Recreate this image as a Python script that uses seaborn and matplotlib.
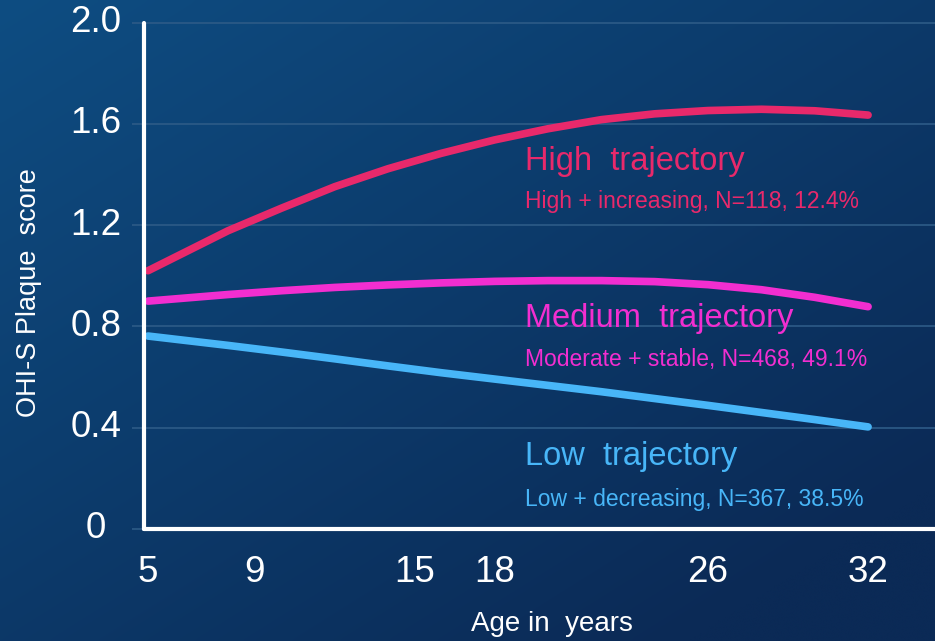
import numpy as np
import pandas as pd
import matplotlib
matplotlib.use("Agg")
import matplotlib.pyplot as plt
import seaborn as sns

# Mean OHI-S plaque score by age for the three trajectory groups
ages = [5, 8, 10, 12, 14, 16, 18, 20, 22, 24, 26, 28, 30, 32]
high_scores = [1.02, 1.178, 1.267, 1.352, 1.423, 1.484, 1.537, 1.581, 1.617, 1.640, 1.653, 1.658, 1.652, 1.635]
medium_scores = [0.90, 0.926, 0.941, 0.954, 0.964, 0.972, 0.978, 0.981, 0.981, 0.977, 0.965, 0.945, 0.915, 0.878]
low_scores = [0.762, 0.725, 0.699, 0.672, 0.644, 0.617, 0.592, 0.567, 0.542, 0.515, 0.488, 0.460, 0.432, 0.403]

groups = ["High", "Medium", "Low"]
titles = ["High  trajectory", "Medium  trajectory", "Low  trajectory"]
subtitles = ["High + increasing, N=118, 12.4%",
             "Moderate + stable, N=468, 49.1%",
             "Low + decreasing, N=367, 38.5%"]
colors = {"High": "#E8296B", "Medium": "#F22ED0", "Low": "#48B6F8"}

x_ticks = [5, 9, 15, 18, 26, 32]
y_ticks = [0, 0.4, 0.8, 1.2, 1.6, 2.0]
y_tick_labels = ["0", "0.4", "0.8", "1.2", "1.6", "2.0"]

df = pd.DataFrame({
    "age": ages * 3,
    "score": high_scores + medium_scores + low_scores,
    "group": [g for g in groups for _ in ages],
})

sns.set_theme(style="white")
plt.rcParams["font.family"] = ["Liberation Sans", "DejaVu Sans"]

W, H = 935, 641
fig = plt.figure(figsize=(W / 100, H / 100), dpi=100)

# diagonal blue gradient backdrop
bg = fig.add_axes([0, 0, 1, 1], zorder=-10)
yy, xx = np.mgrid[0:1:200j, 0:1:300j]
t = np.clip(0.55 * xx + 0.6 * yy, 0, 1)
c0 = np.array([14, 77, 130]) / 255
c1 = np.array([11, 42, 86]) / 255
img = c0[None, None, :] * (1 - t[..., None]) + c1[None, None, :] * t[..., None]
bg.imshow(img, aspect="auto", extent=[0, 1, 1, 0], interpolation="bicubic")
bg.set_axis_off()

ax = fig.add_axes([144 / W, 1 - 528.9 / H, (W - 144) / W, (528.9 - 22.7) / H])
ax.set_facecolor("none")

sns.lineplot(data=df, x="age", y="score", hue="group", palette=colors,
             hue_order=groups, linewidth=5.5, solid_capstyle="round",
             solid_joinstyle="round", legend=False, ax=ax, zorder=5)

ax.set_xlim(4.85, 4.85 + (W - 144) / 26.67)
ax.set_ylim(0, 2.0)

grid_col = "#2D5B87"
ax.set_yticks(y_ticks)
ax.set_yticklabels(y_tick_labels)
ax.set_xticks(x_ticks)
ax.set_xticklabels([str(v) for v in x_ticks])
ax.grid(False)
for yv in y_ticks[1:]:
    ax.axhline(yv, color=grid_col, lw=1.2, zorder=1, clip_on=False)

ax.tick_params(axis="y", which="major", length=8.6, width=1.2, color=grid_col,
               direction="out", pad=26, labelsize=26.5, labelcolor="white", left=True)
ax.tick_params(axis="x", which="major", length=0, pad=19, labelsize=26.5,
               labelcolor="white", bottom=True)
for lbl in ax.get_yticklabels():
    lbl.set_horizontalalignment("center")
    lbl.set_verticalalignment("center")

for side in ["top", "right"]:
    ax.spines[side].set_visible(False)
for side in ["left", "bottom"]:
    ax.spines[side].set_color("white")
    ax.spines[side].set_linewidth(3.0)
    ax.spines[side].set_zorder(6)
    ax.spines[side].set_capstyle("round")

ax.set_xlabel("")
ax.set_ylabel("")
fig.text(29 / W, 1 - 293 / H, "OHI-S Plaque  score", rotation=90, color="white",
         fontsize=19.5, ha="center", va="center")
fig.text(552 / W, 1 - 624 / H, "Age in  years", color="white", fontsize=20,
         ha="center", va="center")

# trajectory captions
title_y = [1.418, 0.799, 0.251]
sub_y = [1.267, 0.645, 0.0905]
x_text = 4.85 + (525 - 144) / 26.67
for g, ttl, sub, ty, sy in zip(groups, titles, subtitles, title_y, sub_y):
    ax.text(x_text, ty, ttl, color=colors[g], fontsize=23.5, va="baseline", ha="left")
    ax.text(x_text, sy, sub, color=colors[g], fontsize=16.5, va="baseline", ha="left")

fig.savefig("out.png", dpi=100)
